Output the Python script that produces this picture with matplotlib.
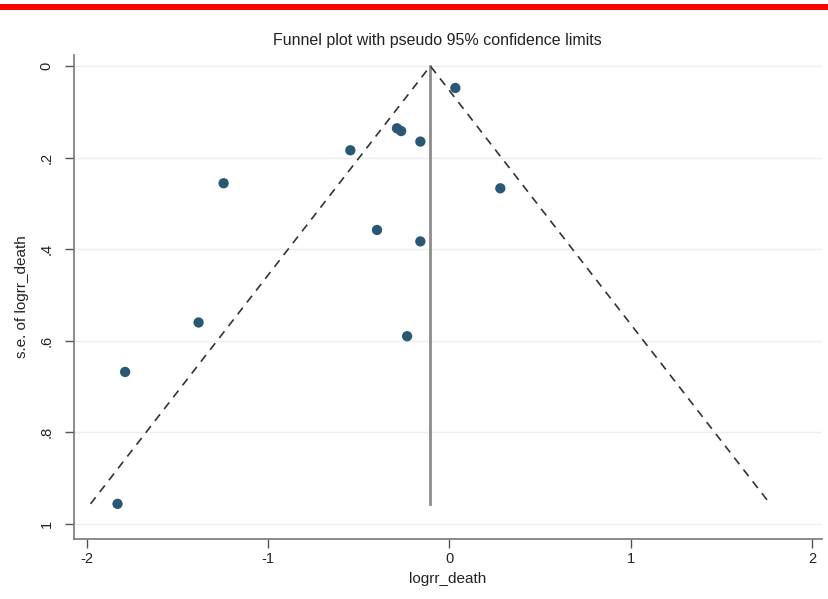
import matplotlib
matplotlib.use("Agg")
import matplotlib.pyplot as plt
from matplotlib.patches import Rectangle
import numpy as np

plt.rcParams['font.family'] = ['Liberation Sans', 'DejaVu Sans']
plt.rcParams['axes.unicode_minus'] = False

# Study estimates (log RR) and their standard errors
logrr = [0.033, -0.546, -0.289, -0.266, -0.160, -1.245, 0.281, -0.399,
         -0.160, -1.383, -0.233, -1.788, -1.830]
se = [0.048, 0.184, 0.136, 0.142, 0.165, 0.256, 0.267, 0.358,
      0.383, 0.560, 0.590, 0.668, 0.956]
pooled = -0.105
xticks = [-2, -1, 0, 1, 2]
yticks = [0, 0.2, 0.4, 0.6, 0.8, 1]
yticklabels = ['0', '.2', '.4', '.6', '.8', '1']

fig = plt.figure(figsize=(8.29, 5.99), dpi=100)
fig.patches.append(Rectangle((0, 1 - 10/599), 1, 6/599, transform=fig.transFigure,
                             facecolor='#ff0000', edgecolor='none'))
ax = fig.add_axes([74/829, 1 - 539/599, (822 - 74)/829, (539 - 55)/599])

semax = max(se)
ax.plot([pooled, pooled], [0, semax], color='#8c8c8c', lw=2, zorder=2)
ax.plot([pooled - 1.96*semax, pooled, pooled + 1.96*semax], [semax, 0, semax],
        color='#333333', lw=1.2, ls=(0, (5, 4)), zorder=3)
ax.scatter(logrr, se, s=55, color='#2a5874', edgecolors='none', zorder=4)

ax.set_xlim(-2.07, 2.055)
ax.set_ylim((539 - 66) / 458, -11 / 458)
ax.set_xticks(xticks)
ax.set_yticks(yticks)
ax.set_yticklabels(yticklabels, rotation=90, va='center')
ax.tick_params(axis='both', colors='#555555', labelcolor='#222222', labelsize=10.5,
               length=6.5, width=1, direction='out')
ax.tick_params(axis='y', pad=8)
ax.tick_params(axis='x', pad=3)
for s in ['top', 'right']:
    ax.spines[s].set_visible(False)
for s in ['left', 'bottom']:
    ax.spines[s].set_color('#777777')
    ax.spines[s].set_linewidth(1.2)
ax.grid(axis='y', color='#eeeeee', lw=1)
ax.set_axisbelow(True)
ax.set_xlabel('logrr_death', fontsize=11, color='#222222', labelpad=4)
ax.set_ylabel('s.e. of logrr_death', fontsize=11, color='#222222', labelpad=8)
fig.text(437 / 829, 1 - 40/599,
         'Funnel plot with pseudo 95% confidence limits',
         ha='center', va='center', fontsize=11.5, color='#222222')

fig.savefig('out.png', dpi=100, facecolor='white')
